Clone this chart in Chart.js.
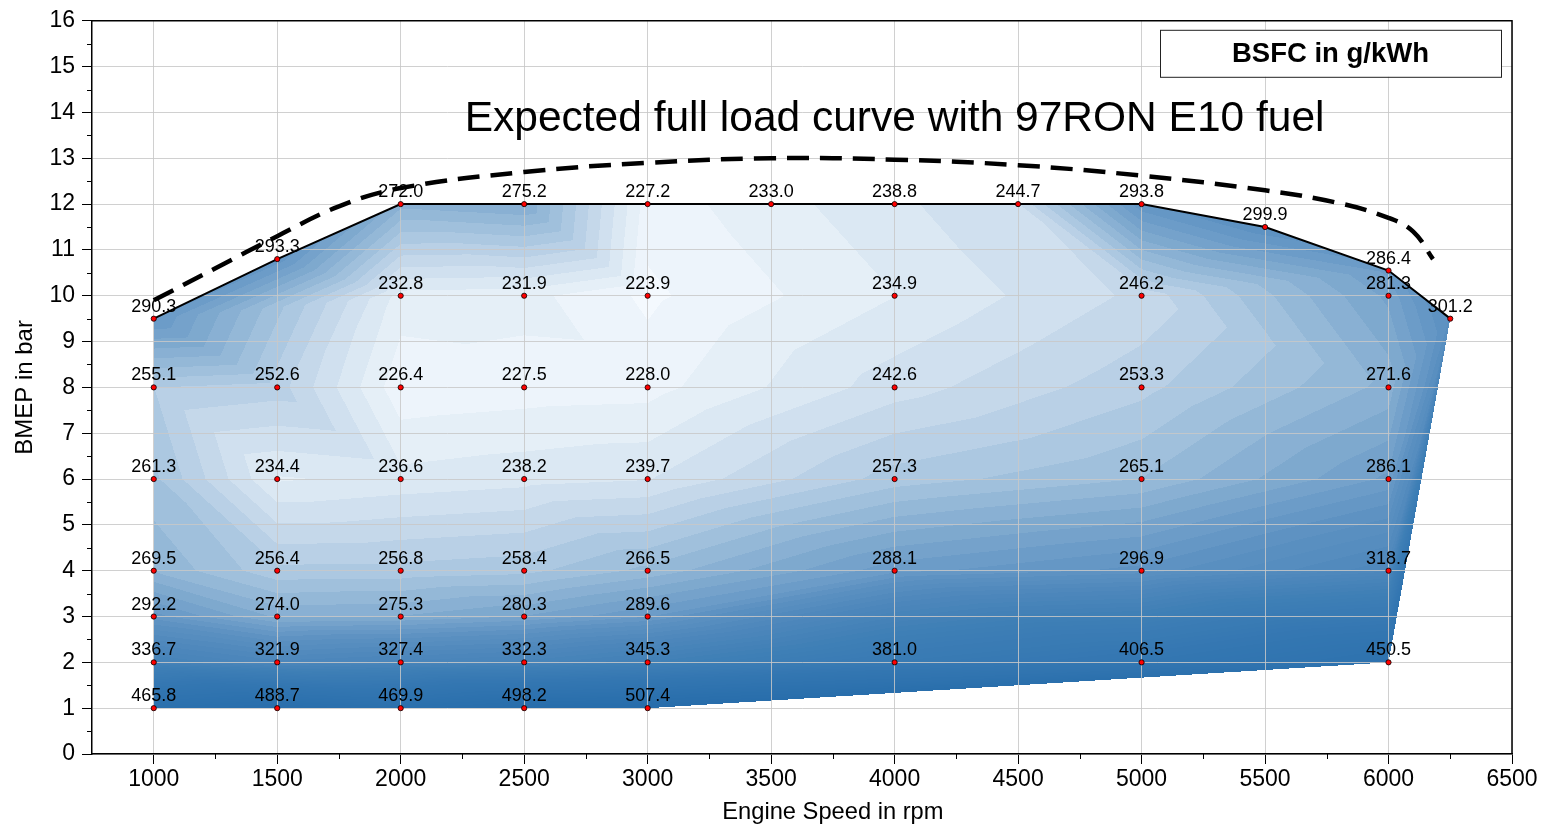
<!DOCTYPE html>
<html>
<head>
<meta charset="utf-8">
<script src="https://cdn.jsdelivr.net/npm/chart.js@4/dist/chart.umd.min.js"></script>
<style>
  html, body { margin: 0; padding: 0; background: #fff; }
  canvas { display: block; }
</style>
</head>
<body>
<canvas id="bsfcMap" width="1545" height="826"></canvas>
<script>
// axis ticks
const xTicks = [1000, 1500, 2000, 2500, 3000, 3500, 4000, 4500, 5000, 5500, 6000, 6500];
const yTicks = [0, 1, 2, 3, 4, 5, 6, 7, 8, 9, 10, 11, 12, 13, 14, 15, 16];

// part load measurement speeds
const speedsTo3000 = [1000, 1500, 2000, 2500, 3000];
const speedsTo6000 = [1000, 1500, 2000, 2500, 3000, 4000, 5000, 6000];
const speeds10bar = [2000, 2500, 3000, 4000, 5000, 6000];

// BSFC in g/kWh per load line
const bsfc1bar = [465.8, 488.7, 469.9, 498.2, 507.4];
const bsfc2bar = [336.7, 321.9, 327.4, 332.3, 345.3, 381.0, 406.5, 450.5];
const bsfc3bar = [292.2, 274.0, 275.3, 280.3, 289.6];
const bsfc4bar = [269.5, 256.4, 256.8, 258.4, 266.5, 288.1, 296.9, 318.7];
const bsfc6bar = [261.3, 234.4, 236.6, 238.2, 239.7, 257.3, 265.1, 286.1];
const bsfc8bar = [255.1, 252.6, 226.4, 227.5, 228.0, 242.6, 253.3, 271.6];
const bsfc10bar = [232.8, 231.9, 223.9, 234.9, 246.2, 281.3];

// measured full load
const fullLoadSpeed = [1000, 1500, 2000, 2500, 3000, 3500, 4000, 4500, 5000, 5500, 6000, 6250];
const fullLoadBmep = [9.5, 10.8, 12, 12, 12, 12, 12, 12, 12, 11.5, 10.55, 9.5];
const fullLoadBsfc = [290.3, 293.3, 272.0, 275.2, 227.2, 233.0, 238.8, 244.7, 293.8, 299.9, 286.4, 301.2];

// expected full load with 97RON E10
const expectedSpeed = [1000, 1250, 1500, 1750, 2000, 2500, 3000, 3500, 4000, 4500, 5000, 5500, 5800, 6000, 6100, 6180];
const expectedBmep = [9.9, 10.6, 11.3, 11.95, 12.35, 12.7, 12.9, 13.0, 12.97, 12.85, 12.62, 12.3, 12.02, 11.7, 11.4, 10.8];

const FONT = "'Liberation Sans', Arial, Helvetica, sans-serif";

const loadLines = [
  [1, speedsTo3000, bsfc1bar],
  [2, speedsTo6000, bsfc2bar],
  [3, speedsTo3000, bsfc3bar],
  [4, speedsTo6000, bsfc4bar],
  [6, speedsTo6000, bsfc6bar],
  [8, speedsTo6000, bsfc8bar],
  [10, speeds10bar, bsfc10bar]
];

const mapPts = [];
loadLines.forEach(([bmep, speeds, vals]) => {
  speeds.forEach((s, i) => mapPts.push({ x: s, y: bmep, v: vals[i] }));
});
fullLoadSpeed.forEach((s, i) => mapPts.push({ x: s, y: fullLoadBmep[i], v: fullLoadBsfc[i] }));

// ---- Delaunay triangulation (sweep + Lawson flips) ----
function orient(a, b, c) {
  return (b.x - a.x) * (c.y - a.y) - (b.y - a.y) * (c.x - a.x);
}

function inCircle(a, b, c, d) {
  const adx = a.x - d.x, ady = a.y - d.y;
  const bdx = b.x - d.x, bdy = b.y - d.y;
  const cdx = c.x - d.x, cdy = c.y - d.y;
  const al = adx * adx + ady * ady, bl = bdx * bdx + bdy * bdy, cl = cdx * cdx + cdy * cdy;
  const det = adx * (bdy * cl - bl * cdy) - ady * (bdx * cl - bl * cdx) + al * (bdx * cdy - bdy * cdx);
  const mag = Math.abs(adx * bdy * cl) + Math.abs(adx * bl * cdy) + Math.abs(ady * bdx * cl) +
              Math.abs(ady * bl * cdx) + Math.abs(al * bdx * cdy) + Math.abs(al * bdy * cdx);
  const s = orient(a, b, c) > 0 ? det : -det;
  return s > 1e-9 * mag;
}

function triangulate(pts) {
  const idx = pts.map((_, i) => i).sort((i, j) => pts[i].x - pts[j].x || pts[i].y - pts[j].y);
  const tris = [];
  let k = 2;
  while (k < idx.length && Math.abs(orient(pts[idx[0]], pts[idx[1]], pts[idx[k]])) < 1e-9) k++;
  const chain = idx.slice(0, k);
  const first = idx[k];
  for (let j = 0; j < chain.length - 1; j++) tris.push([chain[j], chain[j + 1], first]);
  let hull = orient(pts[chain[0]], pts[chain[chain.length - 1]], pts[first]) > 0
    ? chain.concat([first])
    : chain.slice().reverse().concat([first]);

  for (let n = k + 1; n < idx.length; n++) {
    const q = idx[n], m = hull.length;
    const vis = hull.map((h, i) => orient(pts[h], pts[hull[(i + 1) % m]], pts[q]) < -1e-9);
    const s = vis.findIndex((v, i) => v && !vis[(i - 1 + m) % m]);
    if (s < 0) continue;
    let e = s;
    while (vis[e % m]) {
      tris.push([hull[e % m], hull[(e + 1) % m], q]);
      e++;
    }
    const nh = [];
    for (let i = e % m; ; i = (i + 1) % m) {
      nh.push(hull[i]);
      if (i === s) break;
    }
    nh.push(q);
    hull = nh;
  }

  let flipped = true, guard = 0;
  while (flipped && guard++ < 5000) {
    flipped = false;
    const edges = new Map();
    tris.forEach((t, ti) => {
      for (let j = 0; j < 3; j++) {
        const a = t[j], b = t[(j + 1) % 3];
        const key = a < b ? a + ',' + b : b + ',' + a;
        if (!edges.has(key)) edges.set(key, []);
        edges.get(key).push(ti);
      }
    });
    for (const [key, list] of edges) {
      if (list.length !== 2) continue;
      const [a, b] = key.split(',').map(Number);
      const t1 = tris[list[0]], t2 = tris[list[1]];
      const c1 = t1.find(v => v !== a && v !== b);
      const c2 = t2.find(v => v !== a && v !== b);
      const sa = orient(pts[c1], pts[c2], pts[a]), sb = orient(pts[c1], pts[c2], pts[b]);
      if (sa * sb >= 0) continue;
      if (inCircle(pts[a], pts[b], pts[c1], pts[c2])) {
        tris[list[0]] = [a, c1, c2];
        tris[list[1]] = [b, c1, c2];
        flipped = true;
        break;
      }
    }
  }
  return tris;
}

// triangulate with speed in 500 rpm steps so both axes have similar spacing
const mapTris = triangulate(mapPts.map(p => ({ x: p.x / 500, y: p.y })));

// ---- filled contour colours (Blues) ----
const levelMin = 220, levelStep = 5, levelMax = 510;
const colourStops = [
  [220, [247, 251, 255]],
  [230, [234, 242, 249]],
  [240, [214, 228, 241]],
  [250, [191, 212, 232]],
  [260, [166, 196, 222]],
  [270, [142, 180, 213]],
  [280, [121, 165, 204]],
  [290, [104, 153, 198]],
  [300, [91, 144, 193]],
  [320, [77, 135, 187]],
  [350, [63, 127, 182]],
  [400, [52, 119, 178]],
  [510, [38, 108, 170]]
];

function colourAt(v) {
  if (v <= colourStops[0][0]) return colourStops[0][1];
  for (let i = 1; i < colourStops.length; i++) {
    const [v1, c1] = colourStops[i];
    if (v <= v1) {
      const [v0, c0] = colourStops[i - 1];
      const t = (v - v0) / (v1 - v0);
      return c0.map((c, j) => Math.round(c + (c1[j] - c) * t));
    }
  }
  return colourStops[colourStops.length - 1][1];
}

const bandCount = Math.ceil((levelMax - levelMin) / levelStep);
const bandColours = [];
for (let b = 0; b < bandCount; b++) bandColours.push(colourAt(levelMin + (b + 0.5) * levelStep));

function bandColour(v) {
  let b = Math.floor((v - levelMin) / levelStep);
  if (b < 0) b = 0;
  if (b >= bandCount) b = bandCount - 1;
  return bandColours[b];
}

const contourFill = {
  id: 'contourFill',
  beforeDraw(chart) {
    const xs = chart.scales.x, ys = chart.scales.y;
    const w = chart.width, h = chart.height;
    const off = document.createElement('canvas');
    off.width = w; off.height = h;
    const octx = off.getContext('2d');
    const img = octx.createImageData(w, h);
    const d = img.data;
    for (const t of mapTris) {
      const P = t.map(i => ({ x: xs.getPixelForValue(mapPts[i].x), y: ys.getPixelForValue(mapPts[i].y), v: mapPts[i].v }));
      const det = (P[1].y - P[2].y) * (P[0].x - P[2].x) + (P[2].x - P[1].x) * (P[0].y - P[2].y);
      if (Math.abs(det) < 1e-6) continue;
      const x0 = Math.max(0, Math.floor(Math.min(P[0].x, P[1].x, P[2].x)));
      const x1 = Math.min(w - 1, Math.ceil(Math.max(P[0].x, P[1].x, P[2].x)));
      const y0 = Math.max(0, Math.floor(Math.min(P[0].y, P[1].y, P[2].y)));
      const y1 = Math.min(h - 1, Math.ceil(Math.max(P[0].y, P[1].y, P[2].y)));
      for (let py = y0; py <= y1; py++) {
        const cy = py + 0.5;
        for (let px = x0; px <= x1; px++) {
          const cx = px + 0.5;
          const l1 = ((P[1].y - P[2].y) * (cx - P[2].x) + (P[2].x - P[1].x) * (cy - P[2].y)) / det;
          const l2 = ((P[2].y - P[0].y) * (cx - P[2].x) + (P[0].x - P[2].x) * (cy - P[2].y)) / det;
          const l3 = 1 - l1 - l2;
          if (l1 < -1e-6 || l2 < -1e-6 || l3 < -1e-6) continue;
          const c = bandColour(l1 * P[0].v + l2 * P[1].v + l3 * P[2].v);
          const o = (py * w + px) * 4;
          d[o] = c[0]; d[o + 1] = c[1]; d[o + 2] = c[2]; d[o + 3] = 255;
        }
      }
    }
    octx.putImageData(img, 0, 0);
    chart.ctx.drawImage(off, 0, 0, w, h);
  }
};

// value labels above each measured point
const pointLabels = {
  id: 'pointLabels',
  afterDatasetsDraw(chart) {
    const ctx = chart.ctx;
    const meta = chart.getDatasetMeta(0);
    ctx.save();
    ctx.font = '18px ' + FONT;
    ctx.fillStyle = '#000';
    ctx.textAlign = 'center';
    ctx.textBaseline = 'alphabetic';
    meta.data.forEach((el, i) => {
      const raw = chart.data.datasets[0].data[i];
      ctx.fillText(raw.v.toFixed(1), el.x, el.y - 7);
    });
    ctx.restore();
  }
};

// minor ticks, frame, x label, title and legend box
const decorations = {
  id: 'decorations',
  afterDraw(chart) {
    const { ctx, chartArea: a } = chart;
    const xs = chart.scales.x, ys = chart.scales.y;
    ctx.save();
    ctx.strokeStyle = '#000';
    ctx.lineWidth = 1;
    ctx.beginPath();
    xTicks.slice(0, -1).forEach(v => {
      const px = Math.round(xs.getPixelForValue(v + 250)) + 0.5;
      ctx.moveTo(px, a.bottom);
      ctx.lineTo(px, a.bottom + 5);
    });
    yTicks.slice(0, -1).forEach(v => {
      const py = Math.round(ys.getPixelForValue(v + 0.5)) + 0.5;
      ctx.moveTo(a.left - 5, py);
      ctx.lineTo(a.left, py);
    });
    ctx.stroke();

    ctx.lineWidth = 1.5;
    ctx.beginPath();
    ctx.moveTo(a.left, a.top);
    ctx.lineTo(a.right, a.top);
    ctx.lineTo(a.right, a.bottom);
    ctx.stroke();

    ctx.fillStyle = '#000';
    ctx.textAlign = 'center';
    ctx.textBaseline = 'middle';
    ctx.font = '23.7px ' + FONT;
    ctx.fillText('Engine Speed in rpm', xs.getPixelForValue(3750), a.bottom + 58);

    ctx.font = '42.5px ' + FONT;
    ctx.fillText('Expected full load curve with 97RON E10 fuel', xs.getPixelForValue(4000), ys.getPixelForValue(13.85));

    const bx = a.right - 352, by = a.top + 9, bw = 341, bh = 47;
    ctx.fillStyle = '#fff';
    ctx.fillRect(bx, by, bw, bh);
    ctx.strokeStyle = '#222';
    ctx.lineWidth = 1;
    ctx.strokeRect(bx + 0.5, by + 0.5, bw, bh);
    ctx.fillStyle = '#000';
    ctx.font = 'bold 27.5px ' + FONT;
    ctx.fillText('BSFC in g/kWh', bx + bw / 2, by + bh / 2 + 1);
    ctx.restore();
  }
};

const measured = mapPts.map(p => ({ x: p.x, y: p.y, v: p.v }));
const fullLoad = fullLoadSpeed.map((s, i) => ({ x: s, y: fullLoadBmep[i] }));
const expected = expectedSpeed.map((s, i) => ({ x: s, y: expectedBmep[i] }));

const gridStyle = {
  color: 'rgba(200, 200, 200, 0.85)',
  lineWidth: 1,
  tickColor: '#000',
  tickLength: 10,
  tickWidth: 1
};

new Chart(document.getElementById('bsfcMap'), {
  type: 'scatter',
  data: {
    datasets: [
      {
        label: 'BSFC',
        data: measured,
        pointRadius: 2.6,
        pointBackgroundColor: '#ff0000',
        pointBorderColor: '#000',
        pointBorderWidth: 0.8,
        showLine: false
      },
      {
        label: 'Full load',
        data: fullLoad,
        showLine: true,
        borderColor: '#000',
        borderWidth: 2,
        pointRadius: 0,
        fill: false
      },
      {
        label: 'Expected full load',
        data: expected,
        showLine: true,
        borderColor: '#000',
        borderWidth: 4.5,
        borderDash: [22, 11],
        pointRadius: 0,
        tension: 0.4,
        fill: false
      }
    ]
  },
  options: {
    responsive: false,
    devicePixelRatio: 1,
    animation: false,
    layout: { padding: { top: 18, right: 33, left: 0, bottom: 0 } },
    plugins: {
      legend: { display: false },
      tooltip: { enabled: false }
    },
    scales: {
      x: {
        type: 'linear',
        min: 750,
        max: 6500,
        afterBuildTicks: s => { s.ticks = xTicks.map(value => ({ value })); },
        afterFit: s => { s.height = 72; },
        ticks: { font: { size: 23, family: FONT }, color: '#000', padding: 2, maxRotation: 0, autoSkip: false, callback: v => String(v) },
        grid: gridStyle,
        border: { color: '#000', width: 1.5 },
        title: { display: false }
      },
      y: {
        type: 'linear',
        min: 0,
        max: 16,
        afterBuildTicks: s => { s.ticks = yTicks.map(value => ({ value })); },
        afterFit: s => { s.width = 92; },
        ticks: { font: { size: 23, family: FONT }, color: '#000', padding: 7, autoSkip: false, callback: v => String(v) },
        grid: gridStyle,
        border: { color: '#000', width: 1.5 },
        title: { display: true, text: 'BMEP in bar', font: { size: 24, family: FONT }, color: '#000', padding: { top: 11, bottom: 0 } }
      }
    }
  },
  plugins: [contourFill, pointLabels, decorations]
});
</script>
</body>
</html>
